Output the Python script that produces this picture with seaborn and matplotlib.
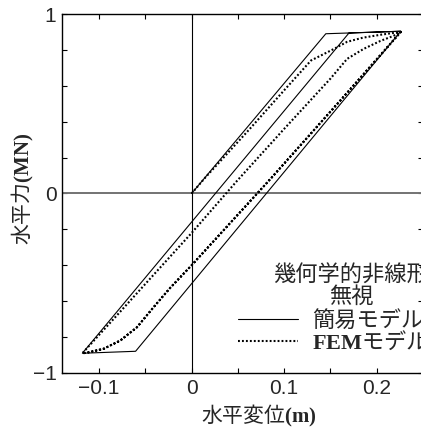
"""Histeresis horizontal: modelo simplificado vs FEM (sem nao-linearidade geometrica)."""

import matplotlib
matplotlib.use("Agg")
import matplotlib.pyplot as plt
import pandas as pd
import seaborn as sns

# Modelo simplificado (linha cheia): carga, descarga, recarga.
disp_simple = [0.0, 0.145, 0.226, -0.0605, -0.118, 0.170, 0.226]
force_simple = [0.0, 0.890, 0.904, -0.879, -0.890, 0.894, 0.904]

# Modelo FEM (pontilhado): carga inicial, descarga, recarga, descarga de novo.
disp_fem_load = [0.0, 0.015, 0.062, 0.100, 0.129, 0.154, 0.168, 0.185, 0.205, 0.226]
force_fem_load = [0.0, 0.090, 0.355, 0.575, 0.741, 0.806, 0.845, 0.868, 0.885, 0.900]
disp_fem_unload = [0.226, 0.161, 0.085, 0.0, -0.023, -0.041, -0.059, -0.077, -0.095, -0.113, -0.118]
force_fem_unload = [0.900, 0.520, 0.080, -0.400, -0.525, -0.633, -0.745, -0.819, -0.865, -0.887, -0.890]
disp_fem_reload = [-0.118, -0.080, -0.040, 0.0, 0.049, 0.100, 0.150, 0.168, 0.186, 0.204, 0.218, 0.226]
force_fem_reload = [-0.890, -0.675, -0.447, -0.220, 0.070, 0.360, 0.640, 0.750, 0.806, 0.850, 0.878, 0.900]

x_ticks = [-0.1, -0.05, 0.0, 0.05, 0.1, 0.15, 0.2]
x_tick_labels = ["\u22120.1", "", "0", "", "0.1", "", "0.2"]
y_ticks = [-1.0, -0.8, -0.6, -0.4, -0.2, 0.0, 0.2, 0.4, 0.6, 0.8, 1.0]
y_tick_labels = ["\u22121", "", "", "", "", "0", "", "", "", "", "1"]

CJK = "Noto Sans CJK JP"

sns.set_theme(style="ticks")
plt.rcParams["font.family"] = ["Liberation Sans", CJK]
plt.rcParams["mathtext.fontset"] = "custom"
plt.rcParams["mathtext.bf"] = "Liberation Serif:bold"
plt.rcParams["mathtext.rm"] = "Liberation Serif"

fem = pd.DataFrame({
    "disp": disp_fem_load + disp_fem_unload + disp_fem_reload + disp_fem_unload,
    "force": force_fem_load + force_fem_unload + force_fem_reload + force_fem_unload,
})
simple = pd.DataFrame({"disp": disp_simple, "force": force_simple})

fig = plt.figure(figsize=(4.21, 4.33), dpi=100)
ax = fig.add_axes([62 / 421, 1 - 373 / 433, 361 / 421, 359 / 433])

ax.axhline(0, color="0.45", lw=1.4, zorder=1)
ax.axvline(0, color="black", lw=0.8, zorder=1)

sns.lineplot(data=simple, x="disp", y="force", sort=False, estimator=None,
             color="black", lw=0.8, label="簡易モデル", ax=ax)
sns.lineplot(data=fem, x="disp", y="force", sort=False, estimator=None,
             color="black", lw=1.5, linestyle=(0, (0.9, 1.0)),
             label=r"$\mathbf{FEM}$モデル", ax=ax)

ax.set_xlim(-0.14, 0.25)
ax.set_ylim(-1, 1)
ax.set_xticks(x_ticks, x_tick_labels)
ax.set_yticks(y_ticks, y_tick_labels)
ax.tick_params(direction="in", length=3.5, width=0.8, labelsize=15, pad=4,
               top=True, right=True, color="black")
for s in ax.spines.values():
    s.set_linewidth(1.0)
    s.set_color("black")
ax.set_xlabel("")
ax.set_ylabel("")

leg = ax.legend(
    prop={"family": CJK, "size": 16},
    frameon=False, loc="center left", bbox_to_anchor=(0.4875, 0.1164),
    borderpad=0, borderaxespad=0, handlelength=2.7, handletextpad=0.62,
    labelspacing=-0.08,
)
ax.annotate("幾何学的非線形\n無視", xy=(1, 1), xycoords=leg,
            xytext=(0, 1), textcoords="offset points", ha="right", va="bottom",
            family=CJK, fontsize=16, multialignment="center", linespacing=0.9)

fig.text(258.5 / 421, 1 - 422.5 / 433, r"水平変位$\mathbf{(m)}$", family=CJK,
         fontsize=15, ha="center", va="baseline")
fig.text(29.5 / 421, 1 - 188.5 / 433, r"水平力$\mathbf{(MN)}$", family=CJK,
         fontsize=15, ha="center", va="baseline", rotation=90,
         rotation_mode="anchor")

fig.savefig("out.png", dpi=100)
